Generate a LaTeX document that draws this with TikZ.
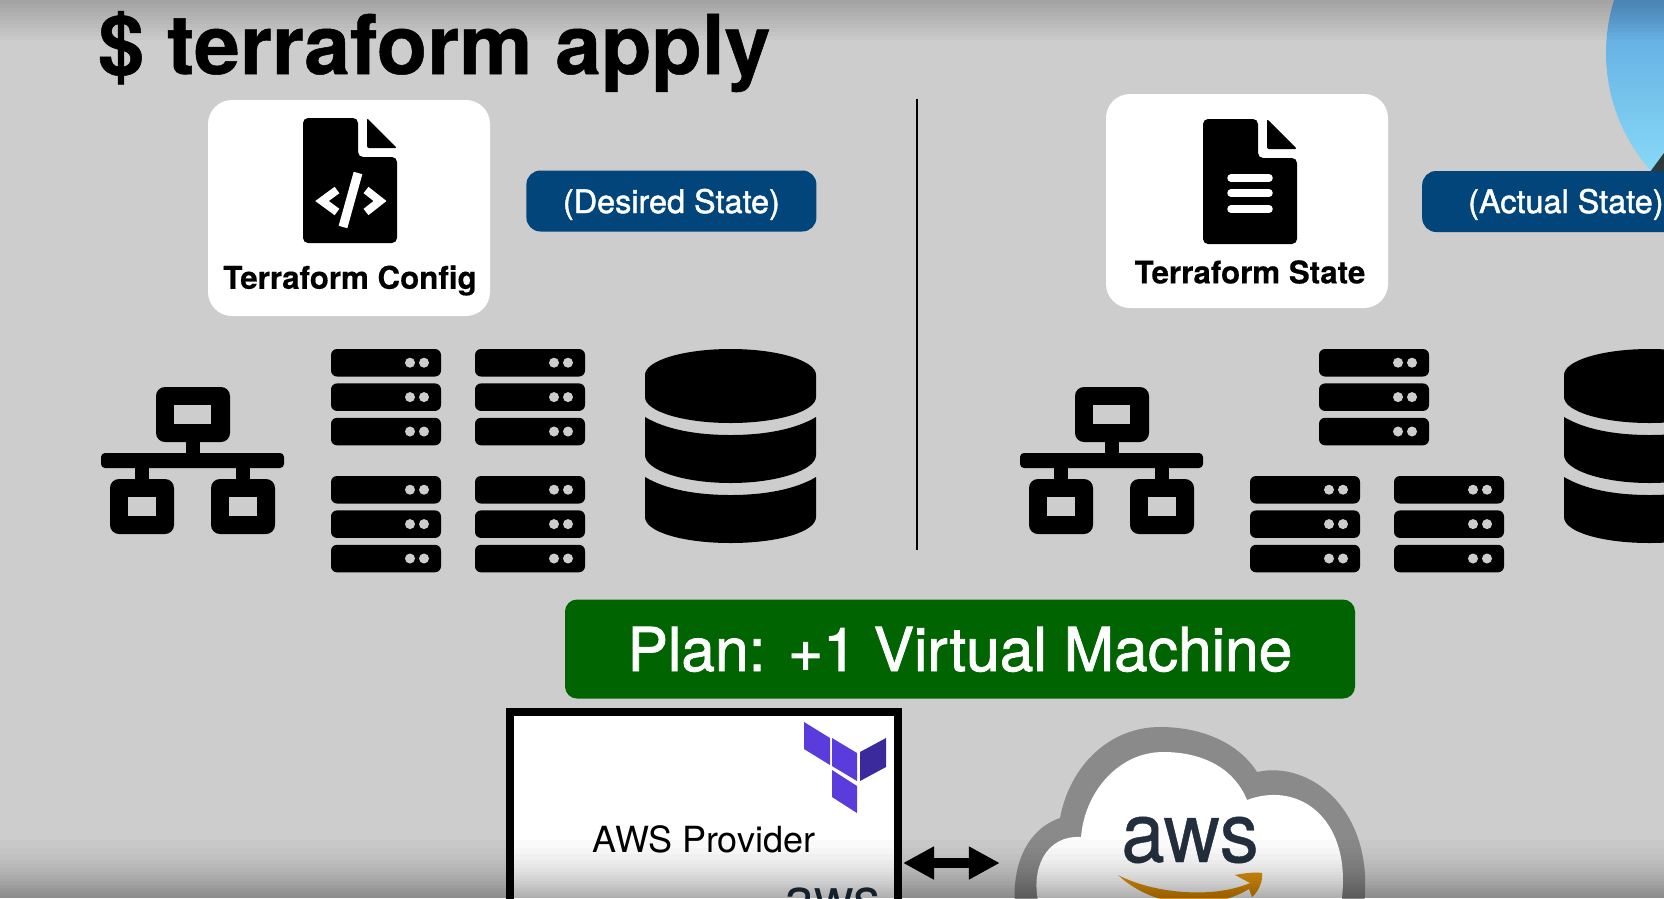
\documentclass[tikz,border=0pt]{standalone}
\usepackage{fontspec}
\usepackage{graphicx}
\setmainfont{TeX Gyre Heros}
\newfontfamily\mediumfont[FakeBold=1.4]{TeX Gyre Heros}
\usetikzlibrary{arrows.meta,positioning}
\definecolor{slidegrey}{HTML}{CDCDCD}
\definecolor{pillblue}{HTML}{02457A}
\definecolor{plangreen}{HTML}{006400}
\definecolor{tfpurple}{HTML}{5A3BDC}
\definecolor{tfdark}{HTML}{3A2A9C}
\definecolor{awsink}{HTML}{232F3E}
\definecolor{awsorange}{HTML}{E0920F}
\definecolor{cloudgrey}{HTML}{8A8A8A}
\definecolor{bubbletop}{HTML}{3F82CE}
\definecolor{bubblelow}{HTML}{96EAFF}
\definecolor{bubbleedge}{HTML}{2C3A3C}

\begin{document}
\begin{tikzpicture}[
      x=1pt,y=-1pt,
      card/.style={fill=white,rounded corners=24pt,minimum width=282pt,inner sep=0pt},
      cardtext/.style={font=\bfseries\addfontfeature{FakeBold=0.4}\fontsize{31.3}{33}\selectfont,inner sep=0pt},
      pill/.style={fill=pillblue,rounded corners=14pt,text=white,minimum height=61pt,
                  inner sep=0pt,font=\mediumfont\fontsize{32.4}{34}\selectfont},
      arr/.style={{Triangle[length=31pt,width=31pt]}-{Triangle[length=31pt,width=31pt]},line width=10pt},
      docbody/.pic={
        \fill[black,rounded corners=5pt] (0,0) -- (55,0) -- (55,39) -- (94,39) -- (94,125) -- (0,125) -- cycle;
        \fill[black,rounded corners=2pt] (64,0) -- (94,30) -- (64,30) -- cycle;
      },
      rackbar/.pic={
        \fill[black,rounded corners=6pt] (0,0) rectangle (110,27.5);
        \fill[slidegrey] (79,13.7) circle (5) (93,13.7) circle (5);
      },
      rack/.pic={
        \foreach \barpos in {0,34.4,68.8}
          \pic at (0,\barpos) {rackbar};
      },
      netbox/.pic={
        \fill[black,rounded corners=9pt] (0,0) rectangle (64,55);
        \fill[slidegrey] (18,18) rectangle (46,37);
      },
      network/.pic={
        \fill[black,rounded corners=9pt] (0,-66) rectangle (74,-11);
        \fill[slidegrey] (18,-48) rectangle (55,-29);
        \fill[black] (30,-11) rectangle (44,1);
        \fill[black,rounded corners=4pt] (-55,0) rectangle (128,15);
        \fill[black] (-21,15) rectangle (-7,26);
        \fill[black] (80,15) rectangle (94,26);
        \pic at (-46,26) {netbox};
        \pic at (55,26) {netbox};
      },
      datastore/.pic={
        \fill[black] (0,26) .. controls (0,11.6) and (38.3,0) .. (85.5,0) .. controls (132.7,0) and (171,11.6) .. (171,26)
          -- (171,48) .. controls (171,62.4) and (132.7,74) .. (85.5,74) .. controls (38.3,74) and (0,62.4) .. (0,48) -- cycle;
        \fill[black] (0,68) .. controls (20,80) and (50,86) .. (85.5,86) .. controls (121,86) and (151,80) .. (171,68)
          -- (171,106) .. controls (171,121) and (132.7,134) .. (85.5,134) .. controls (38.3,134) and (0,121) .. (0,106) -- cycle;
        \fill[black] (0,128) .. controls (20,140) and (50,146) .. (85.5,146) .. controls (121,146) and (151,140) .. (171,128)
          -- (171,168) .. controls (171,183) and (132.7,194) .. (85.5,194) .. controls (38.3,194) and (0,183) .. (0,168) -- cycle;
      }]
    \path[use as bounding box,clip] (0,0) rectangle (1664,898);
    \fill[slidegrey] (0,0) rectangle (1664,898);

    % corner of the presenter bubble
    \shade[top color=bubbletop,bottom color=bubblelow] (1783,53) circle (177);
    \fill[bubbleedge] (1650,172) -- (1664,153) -- (1664,180) -- cycle;

    \node[anchor=base west,inner sep=0pt,font=\bfseries\addfontfeature{FakeBold=0.6}\fontsize{82.4}{84}\selectfont] (title) at (98,74) {\$ terraform apply};

    % left side
    \node[card,minimum height=216pt] (config) at (349,208) {};
    \pic at (303,118) {docbody};
    \draw[white,line width=8pt,line join=miter] (337,190) -- (322,201) -- (337,212);
    \draw[white,line width=8pt,line join=miter] (366,190) -- (380,201) -- (366,212);
    \draw[white,line width=9pt] (358,173) -- (343,227);
    \node[cardtext] (configlabel) at (350,280.5) {Terraform Config};
    \node[pill,minimum width=290pt,text height=28pt,text depth=4pt,right=36pt of config,yshift=7pt] (desired) {(Desired State)};

    \draw[black,line width=1.6pt] (917,99) -- (917,550);

    \pic at (156,453) {network};
    \pic at (331,349) {rack};
    \pic at (475,349) {rack};
    \pic at (331,476) {rack};
    \pic at (475,476) {rack};
    \pic at (645,349) {datastore};

    % right side
    \node[card,minimum height=214pt] (state) at (1247,201) {};
    \pic at (1203,119) {docbody};
    \draw[white,line width=7.5pt,line cap=round] (1231,178) -- (1269,178);
    \draw[white,line width=7.5pt,line cap=round] (1231,193) -- (1269,193);
    \draw[white,line width=7.5pt,line cap=round] (1231,209) -- (1269,209);
    \node[cardtext] (statelabel) at (1250,272) {Terraform State};
    \node[pill,minimum width=290pt,anchor=west] (actual) at (1422,201.5) {};
    \node[inner sep=0pt,font=\mediumfont\fontsize{32.4}{34}\selectfont,text=white,anchor=base west] (actuallabel) at (1468,213) {(Actual State)};

    \pic at (1075,453) {network};
    \pic at (1319,349) {rack};
    \pic at (1250,476) {rack};
    \pic at (1394,476) {rack};
    \pic at (1564,349) {datastore};

    % plan and provider
    \node[fill=plangreen,rounded corners=12pt,minimum width=790pt,minimum height=99pt,text=white,
          text height=50pt,text depth=6pt,inner sep=0pt,font=\mediumfont\fontsize{60.5}{62}\selectfont] (plan) at (960,649) {Plan: +1 Virtual Machine};

    \node[draw=black,line width=8pt,fill=white,minimum width=388pt,minimum height=302pt,
          inner sep=0pt,outer sep=0pt] (provider) at (704,863) {};
    \fill[tfpurple] (804,722) -- (830,738) -- (830,765) -- (804,749) -- cycle;
    \fill[tfpurple] (832,738) -- (857,753) -- (857,781) -- (832,766) -- cycle;
    \fill[tfdark] (860,752) -- (886,738) -- (886,767) -- (860,781) -- cycle;
    \fill[tfpurple] (832,770) -- (857,786) -- (857,813) -- (832,797) -- cycle;
    \node[anchor=base,inner sep=0pt,font=\fontsize{36}{38}\selectfont] (providerlabel) at (704,852) {AWS Provider};
    \node[anchor=base,inner sep=0pt,text=awsink,font=\fontsize{55}{57}\selectfont] (provideraws) at (833,917) {aws};

    % cloud
    \node[inner sep=0pt,minimum width=350pt,minimum height=170pt] (awscloud) at (1190,863) {};
    \fill[cloudgrey] (1015,905) .. controls (1012,868) and (1025,830) .. (1060,818)
      .. controls (1070,765) and (1110,727) .. (1160,727)
      .. controls (1205,727) and (1240,745) .. (1257,772)
      .. controls (1310,760) and (1375,810) .. (1364,905) -- cycle;
    \fill[white] (1039,905) .. controls (1030,870) and (1045,835) .. (1081,837)
      .. controls (1085,790) and (1120,752) .. (1163,752)
      .. controls (1205,752) and (1235,770) .. (1247,800)
      .. controls (1300,780) and (1354,820) .. (1341,905) -- cycle;
    \node[anchor=base,inner sep=0pt,text=awsink,font=\addfontfeature{FakeBold=0.5}\fontsize{84}{86}\selectfont] (cloudaws) at (1190,862) {\scalebox{0.93}[1]{aws}};
    \fill[awsorange] (1118,875) .. controls (1150,892) and (1210,900) .. (1250,883) -- (1235,875)
      .. controls (1245,873) and (1255,872) .. (1262,873) .. controls (1263,882) and (1258,892) .. (1252,897)
      -- (1249,889) .. controls (1205,915) and (1150,905) .. (1118,875) -- cycle;

    \draw[arr,shorten <=5pt,shorten >=15pt] (provider.east) -- (awscloud.west);

    % slide shading
    \foreach \shadey in {4,8,...,40}
      \fill[black,opacity=0.02] (0,0) rectangle (1664,\shadey);
    \foreach \shadey in {840,848,854,860,864,868,872,875,878,881,884,886,888,890,892,894,896}
      \fill[black,opacity=0.02] (0,\shadey) rectangle (1664,898);
  \end{tikzpicture}
\end{document}
